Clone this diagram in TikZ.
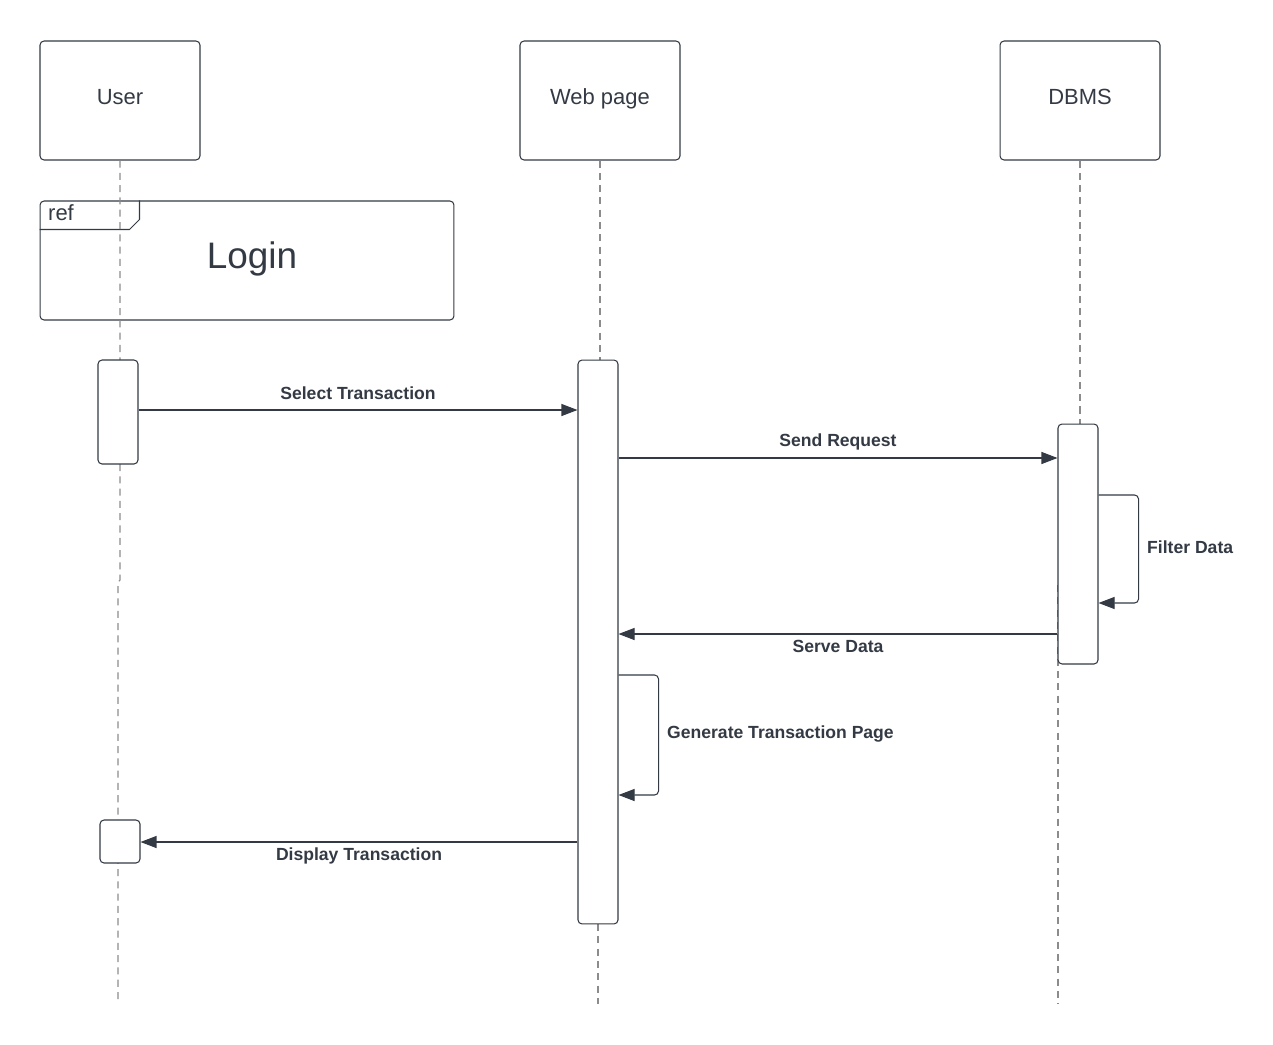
\documentclass[tikz,border=0pt]{standalone}
\usepackage{fontspec}
\setmainfont{Liberation Sans}
\usetikzlibrary{arrows.meta}
\definecolor{ink}{HTML}{333A44}
\definecolor{life}{HTML}{8C8C8C}
\begin{document}
\begin{tikzpicture}[x=0.02cm,y=-0.02cm,>={Triangle[length=0.32cm,width=0.24cm]},
  actor/.style={draw=ink,rounded corners=0.08cm,inner sep=0pt,minimum width=3.2cm,minimum height=2.38cm,line width=0.6pt,text=ink,text height=9pt,text depth=4.5pt,font=\fontsize{12.5}{15}\selectfont},
  act/.style={draw=ink,fill=white,rounded corners=0.08cm,inner sep=0pt,minimum width=0.8cm,line width=0.6pt},
  lifeline/.style={draw=life,dash pattern=on 4pt off 3pt,line width=0.6pt},
  msg/.style={draw=ink,line width=0.6pt,->},
  lbl/.style={text=ink,font=\fontsize{10}{12}\selectfont\bfseries}]
\useasboundingbox (0,0) rectangle (1273,1044);
% actors
\node[actor] (user) at (120,100.5) {User};
\node[actor] (web) at (600,100.5) {Web page};
\node[actor] (dbms) at (1080,100.5) {DBMS};
\coordinate (end) at (0,1004);
% ref frame
\node[draw=ink,rounded corners=0.08cm,line width=0.6pt,inner sep=0pt,minimum width=8.28cm,minimum height=2.38cm] (ref) at (247,260.5) {};
\draw[ink,line width=0.6pt] (ref.north west) ++(0,29) -- ++(90,0) -- ++(10,-10) -- ++(0,-19);
\node[anchor=west,text=ink,font=\fontsize{12.5}{15}\selectfont] (reftag) at (42,213) {ref};
\node[text=ink,font=\fontsize{21}{25}\selectfont] (login) at (252,259) {Login};
% activation boxes and lifelines
\coordinate (ua1pos) at (118,412);
\coordinate (wapos) at (598,642);
\coordinate (dapos) at (1078,544);
\coordinate (ua2pos) at (120,841.5);
\draw[lifeline] (user.south) -- (user.south |- ua1pos) ++(0,52) -- (120,580) -- (118,582) -- (118,1004);
\draw[lifeline] (web.south) -- (web.south |- 0,360);
\draw[lifeline] (598,924) -- (598 ,1004);
\draw[lifeline] (dbms.south) -- (dbms.south |- 0,424);
\draw[lifeline] (1058,585) -- (1058,1004);
\node[act,minimum height=2.08cm] (ua1) at (ua1pos) {};
\node[act,minimum height=11.28cm] (wa) at (wapos) {};
\node[act,minimum height=4.8cm] (da) at (dapos) {};
\node[act,minimum height=0.86cm] (ua2) at (ua2pos) {};
% messages
\coordinate (m1) at (0,410);
\coordinate (m2) at (0,458);
\coordinate (f1) at (0,495);
\coordinate (f2) at (0,603);
\coordinate (m3) at (0,634);
\coordinate (g1) at (0,675);
\coordinate (g2) at (0,795);
\coordinate (m4) at (0,842);
\draw[msg] (ua1.east |- m1) -- (wa.west |- m1) node[lbl,midway,yshift=0.34cm] {Select Transaction};
\draw[msg] (wa.east |- m2) -- (da.west |- m2) node[lbl,midway,yshift=0.32cm] {Send Request};
\draw[msg,rounded corners=0.08cm] (da.east |- f1) -- ++(40,0) -- ++(0,108) -- (da.east |- f2);
\node[lbl,anchor=west] (filter) at (1141,547) {Filter Data};
\draw[msg] (da.west |- m3) -- (wa.east |- m3) node[lbl,midway,yshift=-0.24cm] {Serve Data};
\draw[msg,rounded corners=0.08cm] (wa.east |- g1) -- ++(40,0) -- ++(0,120) -- (wa.east |- g2);
\node[lbl,anchor=west] (gen) at (661,734) {Generate Transaction Page};
\draw[msg] (wa.west |- m4) -- (ua2.east |- m4) node[lbl,midway,yshift=-0.28cm] {Display Transaction};
\end{tikzpicture}
\end{document}
